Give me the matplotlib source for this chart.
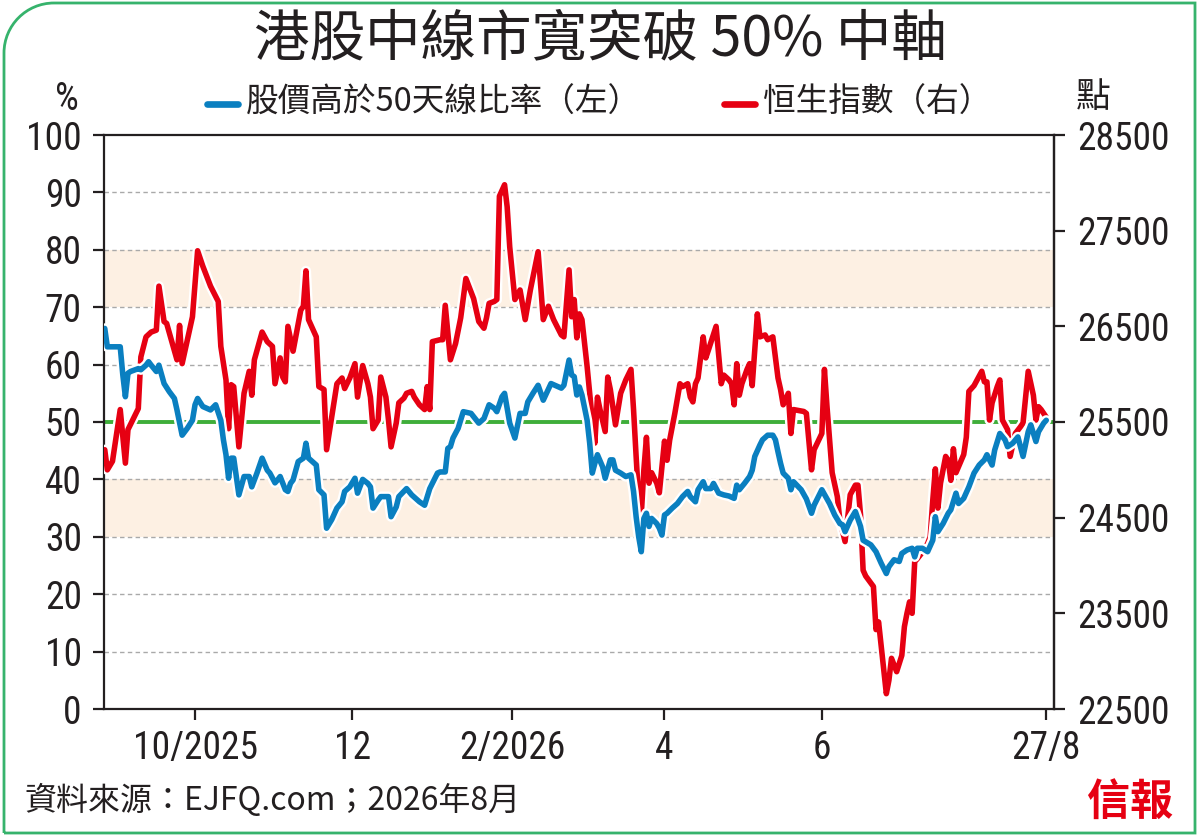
import matplotlib
matplotlib.use("Agg")
import matplotlib.pyplot as plt
from matplotlib import font_manager
import matplotlib.patheffects as pe
from matplotlib.lines import Line2D
from matplotlib.patches import PathPatch
from matplotlib.path import Path
import pandas as pd

# ---------------- data ----------------
title = "港股中線市寬突破 50% 中軸"
legend_blue = "股價高於50天線比率（左）"
legend_red = "恒生指數（右）"
source = "資料來源：EJFQ.com；2026年8月"
logo = "信報"

xtick_dates = ["2025-10-01", "2025-12-01", "2026-02-01", "2026-04-01", "2026-06-01", "2026-08-27"]
xtick_labels = ["10/2025", "12", "2/2026", "4", "6", "27/8"]
left_ticks = [0, 10, 20, 30, 40, 50, 60, 70, 80, 90, 100]
right_ticks = [22500, 23500, 24500, 25500, 26500, 27500, 28500]
bands = [(30, 40), (70, 80)]
midline = 50

hsi_dates = [
    "2025-08-27", "2025-08-28", "2025-08-30", "2025-09-02", "2025-09-04", "2025-09-05", "2025-09-09",
    "2025-09-10", "2025-09-12", "2025-09-14", "2025-09-16", "2025-09-17", "2025-09-19", "2025-09-20",
    "2025-09-24", "2025-09-25", "2025-09-26", "2025-09-30", "2025-10-02", "2025-10-04", "2025-10-07",
    "2025-10-10", "2025-10-11", "2025-10-13", "2025-10-14", "2025-10-15", "2025-10-16", "2025-10-18",
    "2025-10-20", "2025-10-22", "2025-10-23", "2025-10-24", "2025-10-27", "2025-10-29", "2025-10-31",
    "2025-11-01", "2025-11-03", "2025-11-04", "2025-11-05", "2025-11-06", "2025-11-08", "2025-11-11",
    "2025-11-12", "2025-11-13", "2025-11-14", "2025-11-17", "2025-11-18", "2025-11-20", "2025-11-21",
    "2025-11-25", "2025-11-27", "2025-11-28", "2025-11-30", "2025-12-02", "2025-12-03", "2025-12-05",
    "2025-12-07", "2025-12-08", "2025-12-09", "2025-12-11", "2025-12-12", "2025-12-14", "2025-12-15",
    "2025-12-16", "2025-12-18", "2025-12-19", "2025-12-21", "2025-12-22", "2025-12-24", "2025-12-25",
    "2025-12-27", "2025-12-29", "2025-12-30", "2025-12-31", "2026-01-01", "2026-01-04", "2026-01-05",
    "2026-01-06", "2026-01-08", "2026-01-10", "2026-01-12", "2026-01-14", "2026-01-17", "2026-01-19",
    "2026-01-21", "2026-01-22", "2026-01-23", "2026-01-25", "2026-01-26", "2026-01-27", "2026-01-29",
    "2026-01-30", "2026-01-31", "2026-02-02", "2026-02-04", "2026-02-06", "2026-02-08", "2026-02-11",
    "2026-02-13", "2026-02-15", "2026-02-17", "2026-02-20", "2026-02-21", "2026-02-23", "2026-02-24",
    "2026-02-25", "2026-02-26", "2026-02-27", "2026-02-28", "2026-03-02", "2026-03-04", "2026-03-05",
    "2026-03-06", "2026-03-07", "2026-03-09", "2026-03-10", "2026-03-11", "2026-03-13", "2026-03-15",
    "2026-03-17", "2026-03-19", "2026-03-20", "2026-03-21", "2026-03-22", "2026-03-23", "2026-03-24",
    "2026-03-25", "2026-03-26", "2026-03-27", "2026-03-29", "2026-03-30", "2026-04-01", "2026-04-02",
    "2026-04-03", "2026-04-05", "2026-04-07", "2026-04-08", "2026-04-10", "2026-04-11", "2026-04-12",
    "2026-04-13", "2026-04-14", "2026-04-16", "2026-04-17", "2026-04-18", "2026-04-21", "2026-04-23",
    "2026-04-24", "2026-04-26", "2026-04-27", "2026-04-28", "2026-04-29", "2026-04-30", "2026-05-01",
    "2026-05-03", "2026-05-04", "2026-05-05", "2026-05-07", "2026-05-08", "2026-05-10", "2026-05-11",
    "2026-05-13", "2026-05-15", "2026-05-16", "2026-05-17", "2026-05-19", "2026-05-20", "2026-05-21",
    "2026-05-25", "2026-05-26", "2026-05-28", "2026-05-29", "2026-06-01", "2026-06-02", "2026-06-03",
    "2026-06-05", "2026-06-07", "2026-06-08", "2026-06-10", "2026-06-12", "2026-06-14", "2026-06-15",
    "2026-06-16", "2026-06-17", "2026-06-18", "2026-06-21", "2026-06-22", "2026-06-23", "2026-06-26",
    "2026-06-27", "2026-06-28", "2026-06-30", "2026-07-02", "2026-07-03", "2026-07-04", "2026-07-05",
    "2026-07-06", "2026-07-07", "2026-07-08", "2026-07-10", "2026-07-12", "2026-07-13", "2026-07-14",
    "2026-07-15", "2026-07-16", "2026-07-17", "2026-07-19", "2026-07-20", "2026-07-21", "2026-07-22",
    "2026-07-23", "2026-07-26", "2026-07-27", "2026-07-28", "2026-07-30", "2026-08-02", "2026-08-03",
    "2026-08-04", "2026-08-05", "2026-08-06", "2026-08-08", "2026-08-09", "2026-08-10", "2026-08-12",
    "2026-08-13", "2026-08-15", "2026-08-17", "2026-08-18", "2026-08-20", "2026-08-22", "2026-08-23",
    "2026-08-24", "2026-08-25", "2026-08-27",
]
hsi_values = [
    25210, 25000, 25090, 25630, 25070, 25420, 25640,
    26180, 26390, 26440, 26460, 26920, 26550, 26530,
    26150, 26510, 26110, 26600, 27290, 27130, 26920,
    26760, 26290, 25940, 25430, 25890, 25870, 25240,
    25800, 26030, 25780, 26150, 26440, 26340, 26290,
    25900, 26170, 25970, 25920, 26500, 26240, 26670,
    26710, 27080, 26570, 26390, 25870, 25840, 25210,
    25900, 25960, 25850, 25960, 26110, 25760, 26090,
    25900, 25760, 25430, 25520, 25970, 25760, 25520,
    25240, 25490, 25700, 25750, 25800, 25820, 25760,
    25680, 25630, 25870, 25630, 26340, 26360, 26360,
    26720, 26150, 26320, 26590, 27000, 26790, 26550,
    26480, 26590, 26740, 26760, 26780, 27860, 27980,
    27750, 27330, 26780, 26880, 26570, 26880, 27280,
    26570, 26710, 26570, 26410, 26390, 27090, 26600,
    26780, 26380, 26630, 26570, 26080, 25520, 25280,
    25760, 25630, 25400, 25970, 25840, 25470, 25800,
    25940, 26050, 25630, 25140, 24680, 24530, 25000,
    25340, 24860, 24970, 24860, 24760, 25300, 25100,
    25310, 25590, 25900, 25870, 25900, 25760, 25710,
    25900, 25960, 26390, 26170, 26250, 26500, 25900,
    25990, 25940, 25900, 25680, 26110, 25780, 25900,
    26050, 26110, 25880, 26630, 26390, 26410, 26360,
    26390, 25960, 25840, 25680, 25800, 25380, 25630,
    25610, 25590, 25000, 25210, 25380, 26050, 25660,
    24970, 24720, 24470, 24250, 24740, 24840, 24840,
    24530, 23950, 23890, 23780, 23330, 23410, 22660,
    22800, 23030, 22890, 23060, 23360, 23500, 23620,
    23500, 24040, 24070, 24140, 24230, 24300, 24680,
    25010, 24600, 24860, 25140, 25100, 24890, 25220,
    24970, 25160, 25340, 25820, 25880, 26030, 25920,
    25920, 25520, 25700, 25870, 25940, 25520, 25420,
    25140, 25380, 25450, 25490, 26030, 25780, 25520,
    25660, 25630, 25550,
]

breadth_dates = [
    "2025-08-27", "2025-08-28", "2025-08-30", "2025-09-02", "2025-09-03", "2025-09-04", "2025-09-05",
    "2025-09-06", "2025-09-09", "2025-09-10", "2025-09-12", "2025-09-13", "2025-09-14", "2025-09-16",
    "2025-09-17", "2025-09-19", "2025-09-21", "2025-09-23", "2025-09-24", "2025-09-26", "2025-09-28",
    "2025-09-30", "2025-10-01", "2025-10-02", "2025-10-04", "2025-10-07", "2025-10-09", "2025-10-11",
    "2025-10-12", "2025-10-13", "2025-10-14", "2025-10-15", "2025-10-16", "2025-10-18", "2025-10-20",
    "2025-10-22", "2025-10-23", "2025-10-25", "2025-10-27", "2025-10-29", "2025-10-30", "2025-11-01",
    "2025-11-02", "2025-11-03", "2025-11-05", "2025-11-06", "2025-11-07", "2025-11-08", "2025-11-10",
    "2025-11-12", "2025-11-13", "2025-11-14", "2025-11-17", "2025-11-18", "2025-11-20", "2025-11-21",
    "2025-11-23", "2025-11-25", "2025-11-27", "2025-11-28", "2025-11-30", "2025-12-02", "2025-12-03",
    "2025-12-05", "2025-12-07", "2025-12-08", "2025-12-09", "2025-12-11", "2025-12-12", "2025-12-14",
    "2025-12-15", "2025-12-16", "2025-12-18", "2025-12-19", "2025-12-22", "2025-12-24", "2025-12-27",
    "2025-12-29", "2025-12-31", "2026-01-03", "2026-01-04", "2026-01-06", "2026-01-07", "2026-01-08",
    "2026-01-09", "2026-01-11", "2026-01-13", "2026-01-16", "2026-01-19", "2026-01-21", "2026-01-23",
    "2026-01-25", "2026-01-26", "2026-01-28", "2026-01-29", "2026-01-31", "2026-02-02", "2026-02-04",
    "2026-02-06", "2026-02-07", "2026-02-09", "2026-02-11", "2026-02-13", "2026-02-16", "2026-02-20",
    "2026-02-21", "2026-02-23", "2026-02-24", "2026-02-25", "2026-02-26", "2026-02-27", "2026-02-28",
    "2026-03-02", "2026-03-03", "2026-03-04", "2026-03-05", "2026-03-06", "2026-03-08", "2026-03-09",
    "2026-03-11", "2026-03-12", "2026-03-13", "2026-03-15", "2026-03-17", "2026-03-19", "2026-03-20",
    "2026-03-21", "2026-03-22", "2026-03-23", "2026-03-24", "2026-03-25", "2026-03-26", "2026-03-27",
    "2026-03-29", "2026-03-30", "2026-03-31", "2026-04-01", "2026-04-02", "2026-04-04", "2026-04-06",
    "2026-04-08", "2026-04-10", "2026-04-11", "2026-04-13", "2026-04-14", "2026-04-16", "2026-04-17",
    "2026-04-19", "2026-04-20", "2026-04-22", "2026-04-24", "2026-04-26", "2026-04-28", "2026-04-29",
    "2026-04-30", "2026-05-02", "2026-05-04", "2026-05-05", "2026-05-06", "2026-05-08", "2026-05-09",
    "2026-05-11", "2026-05-13", "2026-05-14", "2026-05-15", "2026-05-16", "2026-05-17", "2026-05-19",
    "2026-05-20", "2026-05-21", "2026-05-24", "2026-05-26", "2026-05-28", "2026-05-29", "2026-06-01",
    "2026-06-04", "2026-06-06", "2026-06-08", "2026-06-09", "2026-06-10", "2026-06-12", "2026-06-14",
    "2026-06-16", "2026-06-17", "2026-06-20", "2026-06-22", "2026-06-24", "2026-06-26", "2026-06-27",
    "2026-06-29", "2026-07-01", "2026-07-02", "2026-07-04", "2026-07-06", "2026-07-07", "2026-07-08",
    "2026-07-10", "2026-07-12", "2026-07-14", "2026-07-15", "2026-07-16", "2026-07-18", "2026-07-20",
    "2026-07-21", "2026-07-23", "2026-07-24", "2026-07-26", "2026-07-28", "2026-07-30", "2026-08-01",
    "2026-08-03", "2026-08-04", "2026-08-06", "2026-08-07", "2026-08-09", "2026-08-11", "2026-08-12",
    "2026-08-14", "2026-08-16", "2026-08-18", "2026-08-20", "2026-08-21", "2026-08-23", "2026-08-24",
    "2026-08-26", "2026-08-27",
]
breadth_values = [
    66.3, 63.1, 63.1, 63.1, 58.2, 54.4, 58.5,
    58.8, 59.3, 59.1, 59.9, 60.5, 59.9, 58.8,
    59.9, 56.7, 55.3, 54.1, 52.1, 47.7, 48.9,
    50.3, 53.0, 54.1, 52.7, 52.1, 53.0, 50.3,
    46.9, 44.3, 40.2, 43.7, 43.7, 37.3, 40.5,
    40.5, 38.7, 41.1, 43.7, 41.6, 41.1, 39.4,
    39.9, 40.5, 38.2, 37.9, 39.3, 39.9, 43.1,
    43.7, 46.3, 43.7, 42.5, 38.2, 37.3, 31.5,
    33.0, 35.0, 36.1, 37.9, 38.7, 40.2, 37.6,
    40.0, 39.3, 38.7, 35.0, 36.4, 37.0, 37.0,
    37.0, 33.5, 35.2, 37.0, 38.4, 37.3, 36.1,
    35.5, 38.4, 41.1, 41.3, 41.3, 45.4, 45.7,
    47.2, 48.9, 51.8, 51.5, 49.8, 50.6, 53.0,
    52.4, 51.8, 54.4, 55.0, 49.8, 47.2, 51.5,
    51.5, 53.5, 55.0, 56.4, 53.8, 56.7, 55.9,
    56.4, 60.8, 58.2, 57.9, 54.7, 56.1, 54.7,
    50.3, 46.3, 41.1, 42.8, 44.3, 42.2, 40.2,
    43.4, 43.4, 41.6, 41.1, 40.5, 40.8, 37.9,
    33.5, 30.0, 27.4, 33.2, 34.1, 31.8, 33.2,
    32.3, 31.5, 30.3, 33.8, 34.1, 35.0, 35.8,
    37.0, 37.9, 37.0, 36.1, 38.2, 39.6, 38.4,
    38.4, 39.3, 37.6, 37.3, 37.1, 36.7, 39.0,
    38.2, 39.3, 40.5, 41.6, 44.0, 46.0, 46.9,
    47.7, 47.7, 46.9, 44.8, 42.8, 41.1, 40.2,
    38.2, 39.6, 38.2, 36.6, 34.1, 35.5, 38.2,
    35.8, 33.8, 32.3, 32.1, 30.9, 32.9, 34.4,
    31.8, 29.4, 28.6, 27.4, 25.4, 23.6, 24.8,
    26.0, 25.7, 27.1, 27.7, 28.0, 26.5, 28.0,
    28.0, 27.4, 29.4, 33.5, 30.9, 32.3, 34.1,
    34.7, 37.6, 35.8, 36.7, 38.7, 41.1, 42.5,
    43.4, 44.3, 42.5, 45.1, 48.0, 46.9, 45.7,
    46.3, 47.4, 44.0, 48.3, 49.5, 46.6, 48.3,
    49.8, 50.3,
]

# ---------------- style ----------------
W, H = 1200, 836
avail = {f.name for f in font_manager.fontManager.ttflist}
NUM_FONT = "Liberation Sans"
for cand in ["Liberation Sans Narrow", "Arial Narrow", "Roboto Condensed", "Open Sans Condensed"]:
    if cand in avail:
        NUM_FONT = cand
        break
NUM_SIZE = 27 if NUM_FONT != "Liberation Sans" else 25.5
CJK = ["Noto Sans CJK TC", "Noto Sans CJK SC", "DejaVu Sans"]
plt.rcParams["font.family"] = [NUM_FONT, "Noto Sans CJK TC", "DejaVu Sans"]

INK = "#231f20"
BLUE = "#0a7fc0"
RED = "#e60012"
GREEN_LINE = "#3fae3a"
FRAME = "#36b36c"
BAND = "#fdf0e3"
GRID = "#a9a9a9"

fig = plt.figure(figsize=(W / 100, H / 100), dpi=100)
fig.patch.set_facecolor("white")


def fx(px):
    return px / W


def fy(py):
    return 1 - py / H


L, R, T, B = 104, 1054, 135, 709
ax = fig.add_axes([fx(L), fy(B), fx(R - L), (B - T) / H])
ax_r = ax.twinx()
ax_b = ax.twinx()

x_start = pd.Timestamp("2025-08-27") - pd.Timedelta(hours=7)
x_end = pd.Timestamp("2026-08-30")

# background elements on the base axes
for lo, hi in bands:
    ax.axhspan(lo, hi, color=BAND, lw=0, zorder=0)
for v in left_ticks[1:-1]:
    if v == midline:
        continue
    ax.axhline(v, color=GRID, lw=1.0, dashes=(3.2, 2.4), zorder=1)
ax.axhline(midline, color=GREEN_LINE, lw=2.8, zorder=2)

ax.set_xlim(x_start, x_end)
ax.set_ylim(0, 100)
ax.set_yticks(left_ticks)
ax.set_yticklabels([str(v) for v in left_ticks])
ax.set_xticks(pd.to_datetime(xtick_dates))
ax.set_xticklabels(xtick_labels)
ax.tick_params(axis="y", direction="out", length=8, width=1.6, pad=8,
               labelsize=NUM_SIZE, colors=INK)
ax.tick_params(axis="x", direction="out", length=8, width=1.6, pad=7,
               labelsize=NUM_SIZE, colors=INK)
for s in ax.spines.values():
    s.set_color(INK)
    s.set_linewidth(1.6)

# red: Hang Seng index on right axis
stroke = [pe.Stroke(linewidth=7.4, foreground="white"), pe.Normal()]
ax_r.plot(pd.to_datetime(hsi_dates), hsi_values, color=RED, lw=4.0,
          solid_joinstyle="round", solid_capstyle="round", path_effects=stroke, zorder=3)
ax_r.set_ylim(22500, 28500)
ax_r.set_yticks(right_ticks)
ax_r.set_yticklabels([str(v) for v in right_ticks])
ax_r.tick_params(axis="y", direction="out", length=8, width=1.6, pad=9,
                 labelsize=NUM_SIZE, colors=INK)
for k, s in ax_r.spines.items():
    if k == "right":
        s.set_color(INK)
        s.set_linewidth(1.6)
    else:
        s.set_visible(False)

# blue: breadth on left scale, drawn on top
ax_b.plot(pd.to_datetime(breadth_dates), breadth_values, color=BLUE, lw=4.0,
          solid_joinstyle="round", solid_capstyle="round", path_effects=stroke, zorder=3)
ax_b.set_ylim(0, 100)
ax_b.set_yticks([])
ax_b.tick_params(right=False, labelright=False)
for s in ax_b.spines.values():
    s.set_visible(False)
ax_b.set_xlim(x_start, x_end)

# ---------------- texts ----------------
fig.text(0.5, fy(40), title, ha="center", va="center", fontsize=40,
         family=CJK, color=INK)
fig.text(fx(67), fy(99), "%", ha="center", va="center", fontsize=NUM_SIZE,
         family=[NUM_FONT, "DejaVu Sans"], color=INK)
fig.text(fx(1093), fy(97), "點", ha="center", va="center", fontsize=25,
         family=CJK, color=INK)

fig.add_artist(Line2D([fx(207), fx(238)], [fy(104), fy(104)], color=BLUE, lw=4.8,
                      solid_capstyle="round", transform=fig.transFigure))
fig.text(fx(246), fy(103), legend_blue, ha="left", va="center", fontsize=23.5,
         family=CJK, color=INK)
fig.add_artist(Line2D([fx(724), fx(755)], [fy(104), fy(104)], color=RED, lw=4.8,
                      solid_capstyle="round", transform=fig.transFigure))
fig.text(fx(763), fy(103), legend_red, ha="left", va="center", fontsize=23.5,
         family=CJK, color=INK)

fig.text(fx(24), fy(800), source, ha="left", va="center", fontsize=23,
         family=CJK, color=INK, fontweight="light")
fig.text(fx(1130), fy(803), logo, ha="center", va="center", fontsize=31,
         family=CJK, color=RED, fontweight="bold")

# ---------------- frame ----------------
x0, x1, y0, y1, r = 4, 1195, 3, 833, 50
k = 0.5523 * r
verts = [
    (x0, y1), (x0, y0 + r),
    (x0, y0 + r - k), (x0 + r - k, y0), (x0 + r, y0),
    (x1, y0), (x1, y1), (x0, y1),
]
codes = [Path.MOVETO, Path.LINETO, Path.CURVE4, Path.CURVE4, Path.CURVE4,
         Path.LINETO, Path.LINETO, Path.LINETO]
frame = Path([(fx(a), fy(b)) for a, b in verts], codes)
fig.add_artist(PathPatch(frame, fill=False, edgecolor=FRAME, lw=2.0,
                         transform=fig.transFigure))

fig.savefig("out.png", dpi=100, facecolor="white")
